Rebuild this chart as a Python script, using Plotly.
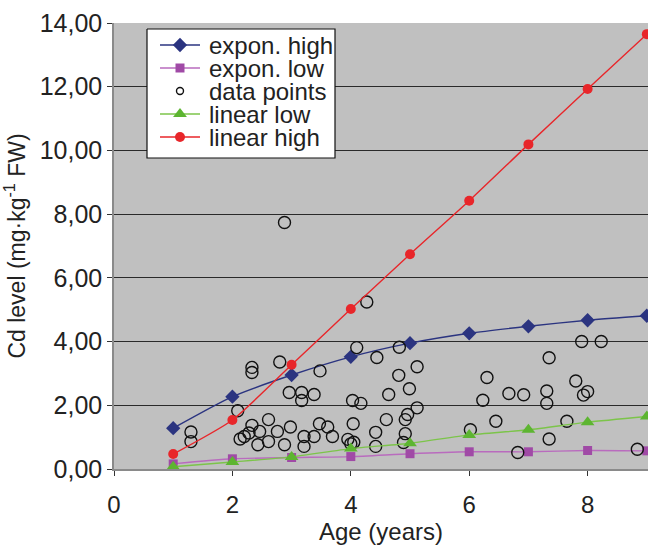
import plotly.graph_objects as go

# ---------------- data ----------------
ages = [1, 2, 3, 4, 5, 6, 7, 8, 9]
expon_high = [1.28, 2.27, 2.95, 3.52, 3.95, 4.26, 4.48, 4.67, 4.81]
expon_low = [0.16, 0.32, 0.36, 0.39, 0.48, 0.54, 0.54, 0.58, 0.57]
linear_low = [0.07, 0.22, 0.38, 0.64, 0.81, 1.07, 1.23, 1.47, 1.65]
linear_high = [0.47, 1.54, 3.27, 5.02, 6.74, 8.42, 10.19, 11.93, 13.65]

data_x = [1.30, 1.30, 2.09, 2.33, 2.33, 2.80, 2.88, 2.96, 3.17, 3.17,
          3.38, 3.48, 2.61, 2.33, 2.28, 2.20, 2.13, 2.46, 2.43, 2.61,
          2.76, 2.88, 2.98, 3.21, 3.21, 3.38, 3.47, 3.61, 3.69, 4.04,
          3.95, 4.00, 4.05, 4.03, 4.17, 4.10, 4.27, 4.44, 4.64, 4.42,
          4.42, 4.60, 4.82, 4.81, 4.99, 5.12, 5.12, 4.96, 4.92, 4.92,
          4.89, 6.02, 6.23, 6.30, 6.45, 6.67, 6.92, 6.82, 7.31, 7.31,
          7.35, 7.35, 7.65, 7.80, 7.90, 7.93, 8.00, 8.23, 8.84]
data_y = [1.16, 0.86, 1.83, 3.19, 3.03, 3.36, 7.74, 2.40, 2.40, 2.15,
          2.34, 3.08, 1.55, 1.37, 1.13, 1.02, 0.94, 1.18, 0.76, 0.86,
          1.18, 0.76, 1.32, 1.02, 0.71, 1.02, 1.42, 1.32, 1.02, 1.42,
          0.93, 0.79, 0.84, 2.15, 2.06, 3.81, 5.24, 3.50, 2.34, 1.15,
          0.71, 1.55, 3.82, 2.94, 2.52, 3.21, 1.92, 1.71, 1.55, 1.11,
          0.83, 1.23, 2.16, 2.87, 1.50, 2.37, 2.33, 0.52, 2.45, 2.06,
          3.49, 0.94, 1.50, 2.76, 4.00, 2.32, 2.43, 4.00, 0.62]

y_tick_vals = [0, 2, 4, 6, 8, 10, 12, 14]
y_tick_text = ["0,00", "2,00", "4,00", "6,00", "8,00", "10,00", "12,00", "14,00"]
x_tick_vals = [0, 2, 4, 6, 8]
series_names = ["expon. high", "expon. low", "data points", "linear low", "linear high"]

# ---------------- styles ----------------
FONT = "Liberation Sans, Arial, Helvetica, sans-serif"
TXT = "#222222"
c_eh = "#2B3480"
c_el = "#A04AA6"
c_ll = "#5DB531"
c_lh = "#E8262A"

fig = go.Figure()

def series(x, y, name, color, symbol, msize, lcolor=None):
    fig.add_trace(go.Scatter(
        x=x, y=y, name=name, mode="lines+markers",
        line=dict(color=lcolor or color, width=1.4, shape="spline", smoothing=0.6),
        marker=dict(color=color, symbol=symbol, size=msize, line=dict(width=0)),
        showlegend=False, hoverinfo="x+y"))

series(ages, expon_high, series_names[0], c_eh, "diamond", 11)
series(ages, expon_low, series_names[1], c_el, "square", 9, "#B96BBE")
fig.add_trace(go.Scatter(
    x=data_x, y=data_y, name=series_names[2], mode="markers",
    marker=dict(symbol="circle", size=12, color="rgba(0,0,0,0)",
                line=dict(color="#111111", width=1.4)),
    showlegend=False))
series(ages, linear_low, series_names[3], c_ll, "triangle-up", 12, "#7CC44A")
series(ages, linear_high, series_names[4], c_lh, "circle", 10)

# ---------------- custom legend (overlay axes in pixel units) ----------------
box_l, box_r, box_t, box_b = 147, 335, 29, 158
rows = [45, 68, 91, 114, 137]
fig.add_trace(go.Scatter(
    x=[box_l, box_r, box_r, box_l, box_l], y=[box_t, box_t, box_b, box_b, box_t],
    mode="lines", fill="toself", fillcolor="white",
    line=dict(color="#111111", width=1.2), xaxis="x2", yaxis="y2",
    showlegend=False, hoverinfo="skip"))

leg_styles = [
    (c_eh, c_eh, "diamond", 11, True),
    ("#B96BBE", c_el, "square", 9, True),
    (None, None, "circle", 7, False),
    ("#7CC44A", c_ll, "triangle-up", 12, True),
    (c_lh, c_lh, "circle", 10, True),
]
for (lc, mc, sym, ms, has_line), ry, nm in zip(leg_styles, rows, series_names):
    if has_line:
        fig.add_trace(go.Scatter(
            x=[160, 200], y=[ry, ry], mode="lines", line=dict(color=lc, width=1.4),
            xaxis="x2", yaxis="y2", showlegend=False, hoverinfo="skip"))
        fig.add_trace(go.Scatter(
            x=[180], y=[ry], mode="markers",
            marker=dict(color=mc, symbol=sym, size=ms, line=dict(width=0)),
            xaxis="x2", yaxis="y2", showlegend=False, hoverinfo="skip"))
    else:
        fig.add_trace(go.Scatter(
            x=[180], y=[ry], mode="markers",
            marker=dict(color="rgba(0,0,0,0)", symbol=sym, size=ms,
                        line=dict(color="#111111", width=1.4)),
            xaxis="x2", yaxis="y2", showlegend=False, hoverinfo="skip"))
    fig.add_annotation(x=207, y=ry, xref="x2", yref="y2", text=nm,
                       showarrow=False, xanchor="left", yanchor="middle",
                       font=dict(family=FONT, size=24, color=TXT))

fig.update_layout(
    width=648, height=545,
    margin=dict(l=114, r=0, t=23, b=76),
    paper_bgcolor="white", plot_bgcolor="#C0C0C0",
    font=dict(family=FONT, color=TXT, size=22),
    showlegend=False,
    xaxis=dict(range=[0, 9.02], tickvals=x_tick_vals, showgrid=False, zeroline=False,
               showline=True, linecolor="#8A8A8A", linewidth=1.5,
               ticks="outside", ticklen=5, tickcolor="#333333", tickwidth=1,
               ticklabelstandoff=8,
               tickfont=dict(size=24, family=FONT, color=TXT),
               title=dict(text="Age (years)", font=dict(size=24, family=FONT, color=TXT),
                          standoff=10)),
    yaxis=dict(range=[0, 14], tickvals=y_tick_vals, ticktext=y_tick_text,
               showgrid=True, gridcolor="#2A2A2A", gridwidth=1.4, zeroline=False,
               showline=True, linecolor="#8A8A8A", linewidth=1.5,
               ticks="outside", ticklen=5, tickcolor="#333333", tickwidth=1,
               tickfont=dict(size=25, family=FONT, color=TXT),
               title=dict(text="Cd level (mg·kg<sup>-1</sup> FW)",
                          font=dict(size=23, family=FONT, color=TXT), standoff=8)),
    xaxis2=dict(overlaying="x", range=[114, 648], visible=False, fixedrange=True),
    yaxis2=dict(overlaying="y", range=[469, 23], visible=False, fixedrange=True),
)

fig.write_html("out.html", config={"displayModeBar": False},
               post_script="document.body.style.margin='0';")
